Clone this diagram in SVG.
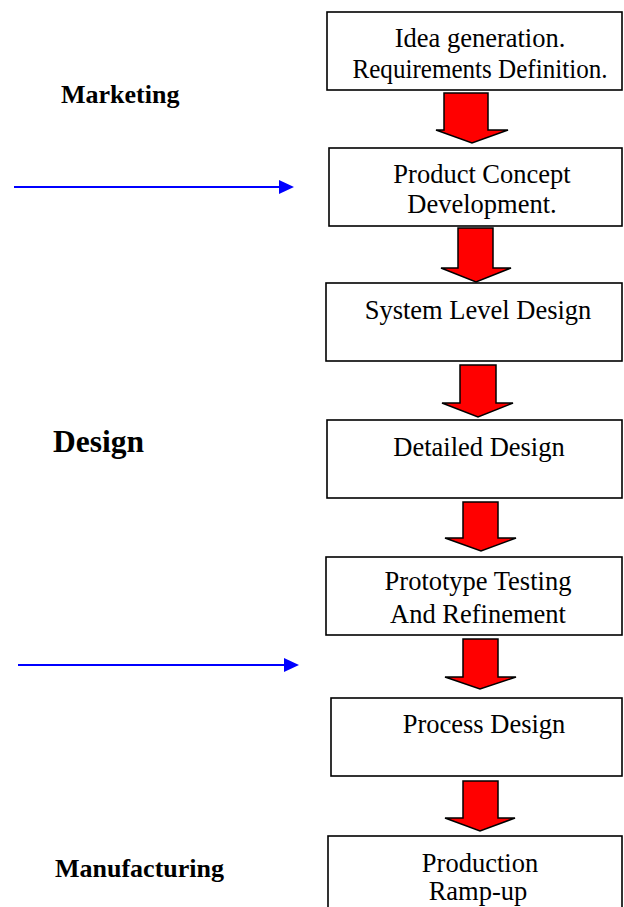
<svg xmlns="http://www.w3.org/2000/svg" width="624" height="907" viewBox="0 0 624 907">
<style>
.box{fill:#fff;stroke:#000;stroke-width:1.6}
.t{font-family:"Liberation Serif","Times New Roman",serif;font-size:26.5px;fill:#000;text-anchor:middle}
.lbl{font-family:"Liberation Serif","Times New Roman",serif;font-weight:bold;fill:#000}
.red{fill:#ff0000;stroke:#000;stroke-width:1.5;stroke-linejoin:miter}
.blue{stroke:#0000ff;stroke-width:2;fill:none}
</style>
<defs>
<marker id="bh" markerWidth="15" markerHeight="14" refX="0" refY="7" orient="auto" markerUnits="userSpaceOnUse">
<path d="M0,0 L15,7 L0,14 Z" fill="#0000ff"/>
</marker>
</defs>
<rect width="624" height="907" fill="#fff"/>
<g id="labels">
<text class="lbl" x="61" y="103" font-size="26">Marketing</text>
<text class="lbl" x="53" y="452" font-size="31.5">Design</text>
<text class="lbl" x="55" y="877" font-size="26">Manufacturing</text>
</g>
<g id="n1"><rect class="box" x="327" y="12" width="295" height="78"/>
<text class="t" x="480" y="47">Idea generation.</text>
<text class="t" x="480" y="78" textLength="255" lengthAdjust="spacingAndGlyphs">Requirements Definition.</text></g>
<g id="n2"><rect class="box" x="329" y="148" width="293" height="78"/>
<text class="t" x="482" y="183">Product Concept</text>
<text class="t" x="482" y="213">Development.</text></g>
<g id="n3"><rect class="box" x="326" y="283" width="296" height="78"/>
<text class="t" x="478" y="319">System Level Design</text></g>
<g id="n4"><rect class="box" x="327" y="420" width="295" height="78"/>
<text class="t" x="479" y="456">Detailed Design</text></g>
<g id="n5"><rect class="box" x="326" y="557" width="296" height="78"/>
<text class="t" x="478" y="590">Prototype Testing</text>
<text class="t" x="478" y="623">And Refinement</text></g>
<g id="n6"><rect class="box" x="331" y="698" width="291" height="78"/>
<text class="t" x="484" y="733">Process Design</text></g>
<g id="n7"><rect class="box" x="328" y="836" width="294" height="80"/>
<text class="t" x="480" y="872">Production</text>
<text class="t" x="478" y="900">Ramp-up</text></g>
<g id="connectors">
<polygon class="red" points="444,93 488,93 488,130 508,130 472,143 436,130 444,130"/>
<polygon class="red" points="458,228 493,228 493,268 511,268 476,282 441,268 458,268"/>
<polygon class="red" points="460,365 496,365 496,403 513,403 478,417 442,403 460,403"/>
<polygon class="red" points="463,502 498,502 498,538 516,538 481,551 445,538 463,538"/>
<polygon class="red" points="463,639 498,639 498,677 516,677 480,689 445,677 463,677"/>
<polygon class="red" points="463,781 498,781 498,818 515,818 480,831 445,818 463,818"/>
<line class="blue" x1="14" y1="187" x2="279" y2="187" marker-end="url(#bh)"/>
<line class="blue" x1="18" y1="665" x2="284" y2="665" marker-end="url(#bh)"/>
</g>
</svg>
